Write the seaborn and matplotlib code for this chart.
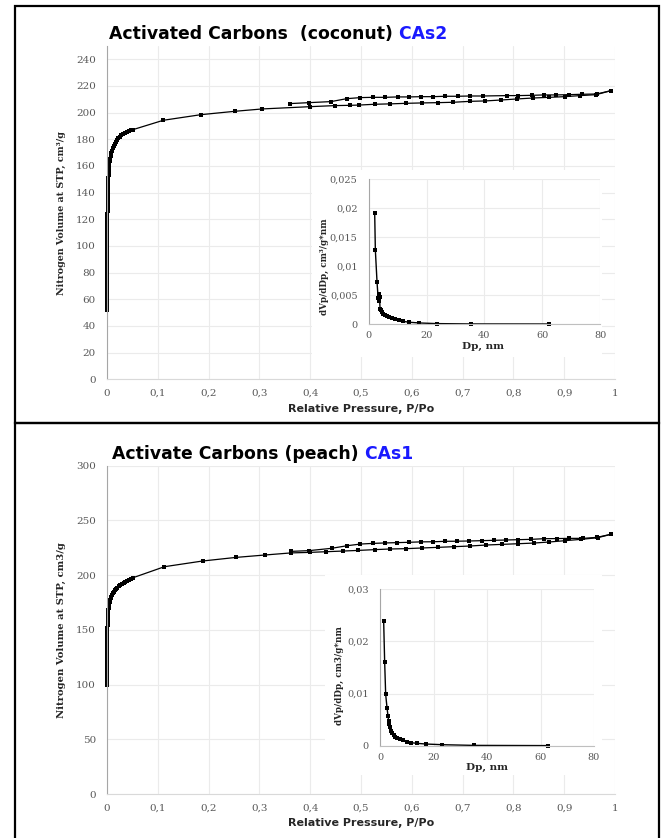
import matplotlib
matplotlib.use("Agg")
import matplotlib.pyplot as plt
from matplotlib.patches import Rectangle
from matplotlib.ticker import MultipleLocator, FuncFormatter
import seaborn as sns

# ---- coconut (CAs2) isotherm ----
coco_ads_p = [0.00001, 0.000012, 0.00002, 0.000025, 0.00003, 0.00004, 0.00005, 0.00006, 0.00007, 0.00008,
              0.0001, 0.00011, 0.00013, 0.00015, 0.00017, 0.00019, 0.00021, 0.00024, 0.00027, 0.0003,
              0.00033, 0.00036, 0.0004, 0.00044, 0.00048, 0.00052, 0.00057, 0.00062, 0.00067, 0.00073,
              0.00079, 0.00085, 0.00092, 0.001, 0.0011, 0.0012, 0.0013, 0.0014, 0.0015, 0.0016,
              0.0018, 0.002, 0.0022, 0.0024, 0.0027, 0.003, 0.0034, 0.0038, 0.0043, 0.0049,
              0.0056, 0.0064, 0.0074, 0.0086, 0.0100, 0.0116, 0.0134, 0.0154, 0.0176, 0.0200,
              0.0226, 0.0254, 0.0284, 0.0316, 0.0350, 0.0386, 0.0424, 0.0464, 0.0505,
              0.111, 0.185, 0.251, 0.306, 0.400, 0.449, 0.479, 0.496, 0.527, 0.558, 0.589,
              0.620, 0.651, 0.682, 0.715, 0.745, 0.776, 0.808, 0.839, 0.871, 0.901, 0.932,
              0.963, 0.992]
coco_ads_v = [52.0, 54.2, 56.5, 58.7, 61.0, 63.2, 65.5, 67.7, 70.0, 72.2,
              74.5, 76.7, 79.0, 81.2, 83.5, 85.7, 88.0, 90.2, 92.5, 94.7,
              97.0, 99.2, 101.5, 103.7, 106.0, 108.2, 110.5, 112.7, 115.0, 117.2,
              119.5, 121.7, 124.0, 126.2, 128.5, 130.7, 133.0, 135.2, 137.5, 139.7,
              142.0, 144.2, 146.5, 148.7, 151.0, 153.2, 155.4, 157.5, 159.6, 161.6,
              163.6, 165.6, 167.6, 169.6, 171.5, 173.3, 175.0, 176.6, 178.1, 179.5,
              180.8, 182.0, 183.1, 184.1, 185.0, 185.8, 186.4, 186.9, 187.2,
              194.3, 198.5, 201.0, 202.8, 204.5, 205.3, 205.5, 205.7, 206.3, 206.6, 207.0,
              207.3, 207.5, 207.8, 208.5, 208.8, 209.5, 210.3, 211.0, 211.5, 212.0, 212.8,
              213.5, 216.5]
coco_des_p = [0.992, 0.964, 0.936, 0.909, 0.884, 0.860, 0.836, 0.810, 0.788, 0.740, 0.715,
              0.690, 0.666, 0.642, 0.619, 0.595, 0.572, 0.548, 0.524, 0.499, 0.472, 0.441,
              0.397, 0.360]
coco_des_v = [216.5, 214.0, 213.8, 213.5, 213.3, 213.3, 213.0, 212.8, 212.8, 212.5, 212.5,
              212.3, 212.3, 212.0, 212.0, 211.8, 211.8, 211.5, 211.5, 211.3, 210.5, 208.3,
              207.5, 206.8]

# ---- coconut (CAs2) pore size distribution ----
coco_dp = [2.07, 2.30, 2.88, 3.25, 3.50, 3.70, 3.75, 3.92, 4.27, 4.60, 5.07, 5.65, 6.20,
           7.00, 7.95, 9.10, 10.4, 12.0, 14.1, 17.5, 23.5, 35.4, 62.4]
coco_dv = [0.0192, 0.0128, 0.0073, 0.0046, 0.0040, 0.0053, 0.0047, 0.0027, 0.0025, 0.0021,
           0.0018, 0.0016, 0.0014, 0.0012, 0.0011, 0.0009, 0.0007, 0.0005, 0.00035, 0.00023,
           0.00012, 0.00006, 0.00005]

# ---- peach (CAs1) isotherm ----
peach_ads_p = [0.00001, 0.000012, 0.00002, 0.00003, 0.00004, 0.00005, 0.00006, 0.00008, 0.0001, 0.00012,
               0.00014, 0.00017, 0.0002, 0.00023, 0.00026, 0.0003, 0.00034, 0.00038, 0.00043, 0.00048,
               0.00054, 0.0006, 0.00067, 0.00074, 0.00082, 0.0009, 0.001, 0.0011, 0.0012, 0.0014,
               0.0016, 0.0019, 0.0022, 0.0026, 0.0031, 0.0037, 0.0044, 0.0052, 0.0062, 0.0073,
               0.0086, 0.0101, 0.0118, 0.0137, 0.0158, 0.0181, 0.0206, 0.0233, 0.0262, 0.0293,
               0.0326, 0.0361, 0.0398, 0.0437, 0.0478, 0.0510,
               0.113, 0.188, 0.254, 0.311, 0.362, 0.400, 0.431, 0.464, 0.495, 0.527, 0.558,
               0.589, 0.620, 0.652, 0.683, 0.714, 0.746, 0.777, 0.809, 0.840, 0.871, 0.902,
               0.933, 0.966, 0.992]
peach_ads_v = [99.6, 101.7, 103.8, 105.9, 108.0, 110.1, 112.2, 114.3, 116.4, 118.5,
               120.6, 122.7, 124.8, 126.9, 129.0, 131.1, 133.2, 135.3, 137.4, 139.5,
               141.6, 143.7, 145.8, 147.9, 150.0, 152.1, 154.2, 156.3, 158.4, 160.5,
               162.6, 164.6, 166.6, 168.5, 170.4, 172.2, 174.0, 175.7, 177.3, 178.9,
               180.4, 181.9, 183.3, 184.7, 186.0, 187.3, 188.5, 189.7, 190.8, 191.9,
               192.9, 193.9, 194.9, 195.8, 196.7, 197.6,
               207.7, 212.9, 216.2, 218.4, 220.3, 220.8, 221.4, 222.0, 222.6, 223.3, 223.9,
               224.2, 224.8, 225.4, 226.0, 226.6, 227.5, 228.1, 228.7, 229.3, 230.3, 231.5,
               232.7, 234.2, 237.3]
peach_des_p = [0.992, 0.964, 0.937, 0.910, 0.885, 0.860, 0.835, 0.810, 0.785, 0.761, 0.738,
               0.713, 0.689, 0.666, 0.642, 0.618, 0.594, 0.571, 0.547, 0.523, 0.499, 0.473,
               0.442, 0.398, 0.362]
peach_des_v = [237.3, 234.5, 233.6, 233.6, 233.4, 233.3, 232.7, 232.4, 232.1, 231.8, 231.5,
               231.2, 231.0, 230.9, 230.5, 230.4, 230.0, 229.7, 229.4, 229.0, 228.4, 226.9,
               224.5, 222.4, 221.7]

# ---- peach (CAs1) pore size distribution ----
peach_dp = [1.37, 1.74, 2.12, 2.62, 2.99, 3.24, 3.49, 3.74, 4.10, 4.60, 5.10, 5.73, 6.48,
            7.48, 8.60, 9.97, 11.6, 13.8, 17.3, 23.3, 35.0, 62.7]
peach_dv = [0.0239, 0.0161, 0.00985, 0.0073, 0.0057, 0.0047, 0.0041, 0.0035, 0.0029, 0.0024,
            0.0020, 0.0017, 0.0015, 0.0012, 0.0010, 0.00077, 0.00058, 0.00045, 0.00032, 0.00019,
            0.00006, 0.00002]

sns.set_style("white")
SERIF = "DejaVu Serif"
SANS = "DejaVu Sans"
TICK_C = "#595959"
GRID_C = "#ebebeb"

comma = FuncFormatter(lambda v, _: ("%g" % round(v, 6)).replace(".", ","))

fig = plt.figure(figsize=(6.63, 8.38), dpi=100)


def px(left, top, right, bottom):
    # pixel box -> figure fraction [l, b, w, h]
    W, H = 663.0, 838.0
    return [left / W, 1 - bottom / H, (right - left) / W, (bottom - top) / H]


def style_axes(ax, fs=7.5):
    ax.set_facecolor("white")
    ax.grid(True, color=GRID_C, linewidth=0.8)
    ax.set_axisbelow(True)
    for s in ["top", "right"]:
        ax.spines[s].set_visible(False)
    ax.spines["left"].set_color("#a6a6a6")
    ax.spines["bottom"].set_color("#d9d9d9")
    ax.tick_params(length=0, labelsize=fs, colors=TICK_C)
    for lab in ax.get_xticklabels() + ax.get_yticklabels():
        lab.set_fontfamily(SERIF)


def draw_line(ax, x, y, ms=2.6, lw=0.9):
    sns.lineplot(x=x, y=y, sort=False, estimator=None, color="black", linewidth=lw,
                 marker="s", markersize=ms, markeredgewidth=0, clip_on=False, ax=ax)


def panel(box, ads_p, ads_v, des_p, des_v, ymax, ystep, ylabel, ylab_fs,
          bg_box, in_box, dp, dv, in_ymax, in_ystep, in_ylabel, in_lab_xy, dp_lab_xy):
    ax = fig.add_axes(px(*box))
    draw_line(ax, ads_p, ads_v)
    draw_line(ax, des_p, des_v)
    ax.set_xlim(0, 1)
    ax.set_ylim(0, ymax)
    ax.xaxis.set_major_locator(MultipleLocator(0.1))
    ax.yaxis.set_major_locator(MultipleLocator(ystep))
    ax.xaxis.set_major_formatter(comma)
    ax.tick_params(axis="y", pad=8)
    ax.tick_params(axis="x", pad=7)
    style_axes(ax)
    ax.set_xlabel("Relative Pressure, P/Po", fontfamily=SANS, fontweight="bold",
                  fontsize=8, color="#262626", labelpad=4)
    ax.set_ylabel(ylabel, fontfamily=SERIF, fontweight="bold", fontsize=ylab_fs,
                  color="#262626", labelpad=7)

    # white chart area behind the inset
    bg = fig.add_axes(px(*bg_box))
    bg.set_facecolor("white")
    bg.set_xticks([])
    bg.set_yticks([])
    for s in bg.spines.values():
        s.set_visible(False)

    ins = fig.add_axes(px(*in_box))
    draw_line(ins, dp, dv, ms=2.8, lw=1.0)
    ins.set_xlim(0, 80)
    ins.set_ylim(0, in_ymax)
    ins.xaxis.set_major_locator(MultipleLocator(20))
    ins.yaxis.set_major_locator(MultipleLocator(in_ystep))
    ins.yaxis.set_major_formatter(comma)
    ins.tick_params(axis="y", pad=8)
    ins.tick_params(axis="x", pad=5)
    style_axes(ins, fs=7)
    ins.spines["bottom"].set_color("#bfbfbf")
    ins.set_xlabel("Dp, nm", fontfamily=SERIF, fontweight="bold", fontsize=7.5,
                   color="#262626")
    ins.xaxis.set_label_coords(*dp_lab_xy)
    ins.xaxis.label.set_verticalalignment("center")
    ins.set_ylabel(in_ylabel, fontfamily=SERIF, fontweight="bold", fontsize=6.3,
                   color="#262626")
    ins.yaxis.set_label_coords(*in_lab_xy)
    ins.yaxis.label.set_verticalalignment("center")
    return ax


panel((107, 46, 615, 379.3), coco_ads_p, coco_ads_v, coco_des_p, coco_des_v, 250, 20,
      "Nitrogen Volume at STP, cm³/g", 6.8,
      (312, 170, 602, 357), (368.7, 179.3, 600, 324.3), coco_dp, coco_dv, 0.025, 0.005,
      "dVp/dDp, cm³/g*nm", (-0.193, 0.40), (0.494, -0.154))
panel((107, 465.7, 615, 794), peach_ads_p, peach_ads_v, peach_des_p, peach_des_v, 300, 50,
      "Nitrogen Volume at STP, cm3/g", 7.2,
      (325, 575, 602, 775), (380, 589.3, 594, 745.7), peach_dp, peach_dv, 0.03, 0.01,
      "dVp/dDp, cm3/g*nm", (-0.187, 0.45), (0.5, -0.14))


def two_tone(x, y, black, blue, fs):
    t = fig.text(x / 663, 1 - y / 838, black, fontfamily=SANS, fontweight="bold",
                 fontsize=fs, color="black", ha="left", va="bottom")
    an = plt.annotate(" " + blue, xy=(1, 0), xycoords=t, fontfamily=SANS,
                      fontweight="bold", fontsize=fs, color="#1a1aff",
                      ha="left", va="bottom", annotation_clip=False)
    return t, an


two_tone(109, 43, "Activated Carbons  (coconut)", "CAs2", 12.4)
two_tone(112, 463, "Activate Carbons (peach)", "CAs1", 12.4)

# panel frames
for top, bottom in [(6, 423), (423, 850)]:
    b = px(15, top, 659, bottom)
    fig.add_artist(Rectangle(b[:2], b[2], b[3], transform=fig.transFigure, fill=False,
                             edgecolor="black", linewidth=1.6, clip_on=False))

fig.savefig("out.png", dpi=100)
